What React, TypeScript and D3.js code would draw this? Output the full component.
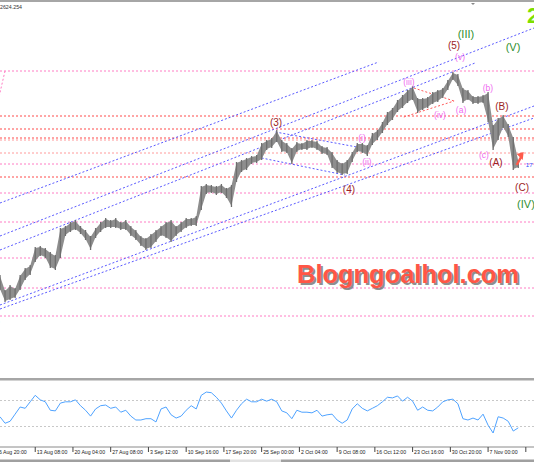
import React from 'react';
import * as d3 from 'd3';

const W = 534;
const H = 462;

// H4 price, one sample every 4 bars (high / low)
const highs = [
  2306, 2276, 2286, 2280, 2306, 2320, 2326, 2362, 2364, 2360,
  2352, 2346, 2400, 2404, 2412, 2416, 2404, 2396, 2384, 2400,
  2412, 2420, 2416, 2420, 2412, 2416, 2404, 2396, 2384, 2380,
  2388, 2396, 2404, 2412, 2416, 2404, 2412, 2420, 2420, 2424,
  2484, 2488, 2486, 2484, 2488, 2480, 2486, 2532, 2536, 2540,
  2544, 2546, 2570, 2576, 2580, 2596, 2576, 2570, 2560, 2572,
  2570, 2576, 2576, 2574, 2564, 2562, 2552, 2536, 2530, 2536,
  2552, 2570, 2570, 2566, 2590, 2596, 2612, 2632, 2640, 2656,
  2666, 2676, 2684, 2660, 2660, 2662, 2672, 2676, 2680, 2696,
  2712, 2708, 2680, 2676, 2664, 2664, 2666, 2672, 2606, 2620,
  2626, 2608, 2582, 2536,
];
const lows = [
  2276, 2252, 2256, 2260, 2276, 2296, 2306, 2332, 2344, 2340,
  2320, 2316, 2340, 2384, 2392, 2396, 2388, 2376, 2356, 2380,
  2392, 2400, 2400, 2400, 2396, 2396, 2384, 2376, 2364, 2356,
  2360, 2372, 2384, 2380, 2372, 2384, 2392, 2400, 2404, 2404,
  2436, 2468, 2470, 2466, 2470, 2460, 2442, 2492, 2512, 2516,
  2528, 2530, 2536, 2556, 2560, 2572, 2552, 2550, 2528, 2552,
  2556, 2556, 2560, 2556, 2548, 2546, 2520, 2510, 2506, 2508,
  2532, 2552, 2550, 2544, 2566, 2576, 2590, 2606, 2616, 2632,
  2640, 2650, 2656, 2630, 2636, 2640, 2648, 2652, 2660, 2676,
  2696, 2684, 2650, 2656, 2648, 2648, 2650, 2612, 2556, 2576,
  2600, 2582, 2516, 2520,
];

// oscillator, same sampling
const osc = [
  45, 35, 38, 49, 60, 58, 68, 78, 71, 68,
  55, 54, 66, 68, 68, 71, 62, 55, 46, 57,
  62, 63, 58, 60, 52, 55, 46, 40, 40, 42,
  42, 37, 57, 60, 48, 43, 46, 55, 62, 57,
  78, 83, 82, 75, 66, 54, 43, 55, 65, 72,
  68, 68, 72, 69, 72, 68, 54, 51, 42, 55,
  52, 52, 51, 55, 46, 48, 49, 40, 35, 40,
  57, 65, 58, 54, 58, 62, 68, 75, 74, 77,
  69, 75, 69, 55, 60, 55, 54, 60, 68, 71,
  72, 65, 42, 40, 43, 40, 49, 32, 20, 45,
  43, 38, 23, 28,
];
const oscLevels = [70, 30];

const timeLabels = [
  '6 Aug 20:00', '13 Aug 08:00', '20 Aug 04:00', '27 Aug 08:00', '3 Sep 12:00',
  '10 Sep 16:00', '17 Sep 20:00', '25 Sep 00:00', '2 Oct 04:00', '9 Oct 08:00',
  '16 Oct 12:00', '23 Oct 16:00', '30 Oct 20:00', '7 Nov 00:00',
];

const redLevels = [2624, 2598, 2580, 2502];
const lightRedLevels = [2576, 2550];
const pinkLevels = [2714, 2528, 2470, 2412, 2340, 2280, 2224];

// trend lines: [bar0, price0, bar1, price1]
const blueLines = [
  [0, 2450, 301, 2732],
  [0, 2384, 424.5, 2800],
  [0, 2356, 377.6, 2730],
  [0, 2246, 424.5, 2644],
  [0, 2238, 424.5, 2620],
  [219, 2592, 288, 2560],
  [208, 2540, 274, 2506],
];
const redLines = [
  [329, 2680, 361, 2654],
  [321, 2622, 361, 2654],
];
const pinkLines = [[4, 2714, -1, 2660]];

// wave labels: text, bar, price
const minorWaves: [string, number, number][] = [
  ['(2)', -4.8, 2212], ['(3)', 219.4, 2610], ['(4)', 277.4, 2476], ['(5)', 360.9, 2764],
  ['(A)', 394.3, 2530], ['(B)', 399, 2642], ['(C)', 415, 2480],
];
const interWaves: [string, number, number][] = [
  ['(III)', 370.4, 2786], ['(V)', 407.8, 2760], ['(IV)', 418.1, 2446],
];
const minuteWaves: [string, number, number][] = [
  ['(i)', 287.8, 2580], ['(ii)', 291.7, 2532], ['(iii)', 325.1, 2692], ['(iv)', 349.8, 2626],
  ['(v)', 365.7, 2742], ['(a)', 366.5, 2636], ['(b)', 387.9, 2680], ['(c)', 384.7, 2546],
];

const FONT = 'Liberation Sans, Arial, sans-serif';

export default function App() {
  const x = d3.scaleLinear().domain([0, 424.5]).range([0, W]);
  const y = d3.scaleLinear().domain([2100, 2850]).range([378, 3]);
  const yo = d3.scaleLinear().domain([0, 100]).range([446, 381]);

  const idx = d3.range(highs.length);
  const band = d3.area<number>()
    .x(i => x(i * 4))
    .y0(i => y(lows[i]) - 1)
    .y1(i => y(highs[i]) + 1);
  const oscPath = d3.line<number>()
    .x((_, i) => x(i * 4))
    .y(d => yo(d));

  const ticks = d3.range(15).map(k => -2 + 30 * k);

  const hLine = (p: number, color: string, key: string) => (
    <line key={key} x1={0} x2={W} y1={y(p)} y2={y(p)} stroke={color}
      strokeWidth={1} strokeDasharray="2,2" />
  );
  const tLine = (l: number[], color: string, key: string) => (
    <line key={key} x1={x(l[0])} y1={y(l[1])} x2={x(l[2])} y2={y(l[3])}
      stroke={color} strokeWidth={1} strokeDasharray="2,2" />
  );
  const waveText = (w: [string, number, number], color: string, size: number, key: string) => (
    <text key={key} x={x(w[1])} y={y(w[2]) + size * 0.3} textAnchor="middle"
      fontSize={size} fill={color} fontFamily={FONT}>{w[0]}</text>
  );

  const ax = x(415.5);
  const ay = y(2552);

  return (
    <div>
      <style>{`body{margin:0}`}</style>
      <svg width={W} height={H} style={{ display: 'block', background: '#fff' }}>
        <defs>
          <clipPath id="main"><rect x={0} y={3} width={W} height={375} /></clipPath>
          <clipPath id="sub"><rect x={0} y={381} width={W} height={65} /></clipPath>
        </defs>

        <g clipPath="url(#main)">
          {pinkLevels.map((p, i) => hLine(p, '#ff7cc4', 'p' + i))}
          {lightRedLevels.map((p, i) => hLine(p, '#ff9a9a', 'lr' + i))}
          {redLevels.map((p, i) => hLine(p, '#ff4a4a', 'r' + i))}
          {blueLines.map((l, i) => tLine(l, '#5a5aff', 'b' + i))}
          {redLines.map((l, i) => tLine(l, '#ff5a5a', 'rl' + i))}
          {pinkLines.map((l, i) => tLine(l, '#ff7cc4', 'pl' + i))}

          <path d={band(idx) ?? ''} fill="#8e8e8e" stroke="none" />
          {idx.map(i => (
            <line key={'bar' + i} x1={x(i * 4)} x2={x(i * 4)} y1={y(highs[i])} y2={y(lows[i])}
              stroke="#6e6e6e" strokeWidth={1.3} />
          ))}

          {minorWaves.map((w, i) => waveText(w, '#9b2424', 10, 'mi' + i))}
          {interWaves.map((w, i) => waveText(w, '#2f8f2f', 11, 'in' + i))}
          {minuteWaves.map((w, i) => waveText(w, '#f06af0', 8.5, 'mn' + i))}

          <g>
            <line x1={ax - 6} y1={ay + 13} x2={ax - 1} y2={ay + 4} stroke="#ff5a4a" strokeWidth={2.5} />
            <path d={`M${ax + 1},${ay} L${ax - 6},${ay + 2} L${ax},${ay + 8} Z`} fill="#ff5a4a" />
          </g>
          <text x={x(418)} y={y(2522)} fontSize={6} fill="#2a4bff" fontFamily={FONT}>17</text>

          <text x={527} y={23} fontSize={22} fontWeight="bold" fill="#7ddf00" fontFamily={FONT}>2</text>
          <text x={0} y={9} fontSize={6} fill="#333" fontFamily={FONT} textLength={22}
            lengthAdjust="spacingAndGlyphs">2624.254</text>
          <path d="M470,2 L476,2 L473,5 Z" fill="#888" />

          <text x={299} y={285} fontSize={26} fontWeight="bold" fill="#6a6a6a" opacity={0.75}
            fontFamily={FONT} textLength={222} lengthAdjust="spacingAndGlyphs">Blogngoalhol.com</text>
          <text x={297} y={283} fontSize={26} fontWeight="bold" fill="#ff5646"
            fontFamily={FONT} textLength={222} lengthAdjust="spacingAndGlyphs">Blogngoalhol.com</text>
        </g>

        <rect x={0} y={0} width={W} height={2} fill="#a6a6a6" />
        <rect x={0} y={378} width={W} height={2.5} fill="#a6a6a6" />

        <g clipPath="url(#sub)">
          {oscLevels.map((v, i) => (
            <line key={i} x1={0} x2={W} y1={yo(v)} y2={yo(v)} stroke="#c8c8c8" strokeDasharray="2,2" />
          ))}
          <path d={oscPath(osc) ?? ''} fill="none" stroke="#4fa3ff" strokeWidth={1} />
        </g>

        <line x1={0} x2={W} y1={447} y2={447} stroke="#8a8a8a" strokeWidth={1} />
        {ticks.map((b, i) => (
          <g key={i}>
            <line x1={x(b)} x2={x(b)} y1={447} y2={452} stroke="#444" strokeWidth={1} />
            {timeLabels[i] && (
              <text x={x(b) + 1.5} y={454} fontSize={5.2} fill="#222" fontFamily={FONT}>{timeLabels[i]}</text>
            )}
          </g>
        ))}

        <rect x={0} y={459.5} width={230} height={2.5} fill="#a0a0a0" />
        <rect x={230} y={459.5} width={51} height={2.5} fill="#e2e2e2" />
        <rect x={281} y={459.5} width={W - 281} height={2.5} fill="#a0a0a0" />
      </svg>
    </div>
  );
}
